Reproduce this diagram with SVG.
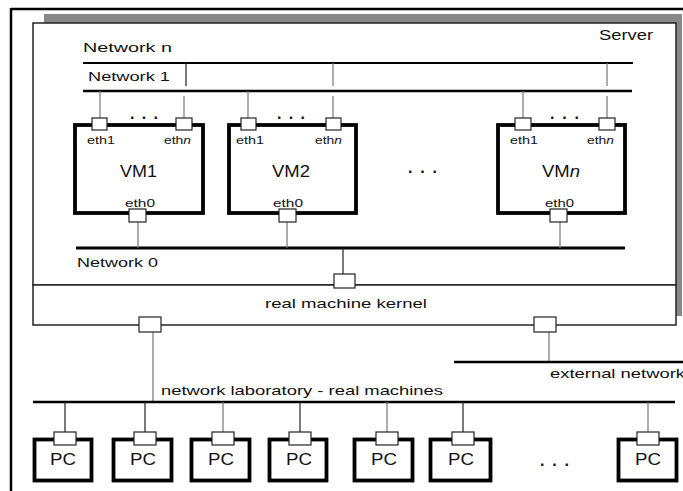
<svg xmlns="http://www.w3.org/2000/svg" width="683" height="491" viewBox="0 0 683 491">
<style>
text{font-family:"Liberation Sans",Arial,sans-serif;fill:#111}
.lbl{font-size:13px}
.eth{font-size:11px}
.vm{font-size:16px}
.pc{font-size:16px}
.dots{font-size:16px;font-weight:bold}
.port{fill:#fff;stroke:#222;stroke-width:1.2}
.box{fill:#fff;stroke:#000;stroke-width:3.8}
.net{stroke:#000;fill:none}
.wire{stroke:#777;stroke-width:1.2;fill:none}
.wireb{stroke:#222;stroke-width:1.2;fill:none}
</style>
<rect width="683" height="491" fill="#fff"/>
<g id="frame">
<line x1="11" y1="9" x2="683" y2="9" stroke="#000" stroke-width="2.5"/>
<line x1="11" y1="8" x2="11" y2="491" stroke="#000" stroke-width="2.5"/>
</g>
<g id="server">
<rect x="44" y="14" width="638" height="9" fill="#888"/>
<rect x="676" y="14" width="6" height="302" fill="#888"/>
<rect x="33" y="23" width="643" height="262" fill="#fff" stroke="#222" stroke-width="1.5"/>
<text x="599" y="40" font-size="14" textLength="54" lengthAdjust="spacingAndGlyphs">Server</text>
</g>
<g id="kernel">
<rect x="33" y="285" width="643" height="40" fill="#fff" stroke="#222" stroke-width="1.5"/>
<text x="265" y="308" class="lbl" textLength="162" lengthAdjust="spacingAndGlyphs">real machine kernel</text>
</g>
<g id="connectors">
<line class="net" x1="83" y1="63" x2="633" y2="63" stroke-width="2"/>
<line class="net" x1="83" y1="91" x2="632" y2="91" stroke-width="2.4"/>
<line class="wireb" x1="186" y1="63" x2="186" y2="86"/>
<line class="wire" x1="333" y1="63" x2="333" y2="86"/>
<line class="wire" x1="607" y1="63" x2="607" y2="86"/>
<line class="wire" x1="100" y1="91" x2="100" y2="118"/>
<line class="wire" x1="184" y1="96" x2="184" y2="118"/>
<line class="wire" x1="248" y1="91" x2="248" y2="118"/>
<line class="wire" x1="333" y1="96" x2="333" y2="118"/>
<line class="wire" x1="523" y1="91" x2="523" y2="118"/>
<line class="wire" x1="607" y1="96" x2="607" y2="118"/>
<line class="net" x1="76" y1="248" x2="625" y2="248" stroke-width="3.2"/>
<line class="wire" x1="138" y1="222" x2="138" y2="248"/>
<line class="wire" x1="287" y1="222" x2="287" y2="248"/>
<line class="wire" x1="560" y1="222" x2="560" y2="248"/>
<line class="wireb" x1="343" y1="248" x2="343" y2="274"/>
<line class="wire" x1="153" y1="332" x2="153" y2="402"/>
<line class="wire" x1="549" y1="332" x2="549" y2="362"/>
<line class="net" x1="454" y1="362" x2="683" y2="362" stroke-width="2.6"/>
<line class="net" x1="33" y1="402" x2="675" y2="402" stroke-width="2.6"/>
<line class="wireb" x1="65" y1="402" x2="65" y2="432"/>
<line class="wireb" x1="145" y1="402" x2="145" y2="432"/>
<line class="wire" x1="223" y1="402" x2="223" y2="432"/>
<line class="wireb" x1="300" y1="402" x2="300" y2="432"/>
<line class="wire" x1="387" y1="402" x2="387" y2="432"/>
<line class="wireb" x1="463" y1="402" x2="463" y2="432"/>
<line class="wire" x1="648" y1="402" x2="648" y2="432"/>
</g>
<g id="net-labels">
<text x="83" y="52" class="lbl" textLength="89" lengthAdjust="spacingAndGlyphs">Network  n</text>
<text x="88" y="81" class="lbl" textLength="82" lengthAdjust="spacingAndGlyphs">Network 1</text>
<text x="77" y="267" class="lbl" textLength="81" lengthAdjust="spacingAndGlyphs">Network 0</text>
<text x="550" y="378" class="lbl" textLength="135" lengthAdjust="spacingAndGlyphs">external network</text>
<text x="161" y="395" class="lbl" textLength="282" lengthAdjust="spacingAndGlyphs">network laboratory - real machines</text>
</g>
<g id="vm1">
<rect class="box" x="75" y="125" width="128" height="88"/>
<rect class="port" x="92" y="118" width="15" height="12"/>
<rect class="port" x="176" y="118" width="16" height="12"/>
<text x="130" y="119" class="dots" textLength="28" lengthAdjust="spacing">...</text>
<text x="87" y="144" class="eth" textLength="28" lengthAdjust="spacingAndGlyphs">eth1</text>
<text x="164" y="144" class="eth" textLength="27" lengthAdjust="spacingAndGlyphs">eth<tspan font-style="italic">n</tspan></text>
<text x="120" y="177" class="vm" textLength="37" lengthAdjust="spacingAndGlyphs">VM1</text>
<text x="125" y="207" class="eth" textLength="30" lengthAdjust="spacingAndGlyphs">eth0</text>
<rect class="port" x="129" y="209" width="17" height="13"/>
</g>
<g id="vm2">
<rect class="box" x="229" y="125" width="127" height="88"/>
<rect class="port" x="241" y="118" width="15" height="12"/>
<rect class="port" x="326" y="118" width="15" height="12"/>
<text x="277" y="119" class="dots" textLength="28" lengthAdjust="spacing">...</text>
<text x="236" y="144" class="eth" textLength="28" lengthAdjust="spacingAndGlyphs">eth1</text>
<text x="315" y="144" class="eth" textLength="27" lengthAdjust="spacingAndGlyphs">eth<tspan font-style="italic">n</tspan></text>
<text x="272" y="177" class="vm" textLength="38" lengthAdjust="spacingAndGlyphs">VM2</text>
<text x="273" y="207" class="eth" textLength="30" lengthAdjust="spacingAndGlyphs">eth0</text>
<rect class="port" x="279" y="209" width="17" height="13"/>
</g>
<text x="408" y="173" class="dots" textLength="29" lengthAdjust="spacing">...</text>
<g id="vmn">
<rect class="box" x="498" y="125" width="127" height="88"/>
<rect class="port" x="515" y="118" width="16" height="12"/>
<rect class="port" x="599" y="118" width="16" height="12"/>
<text x="550" y="119" class="dots" textLength="29" lengthAdjust="spacing">...</text>
<text x="510" y="144" class="eth" textLength="28" lengthAdjust="spacingAndGlyphs">eth1</text>
<text x="587" y="144" class="eth" textLength="27" lengthAdjust="spacingAndGlyphs">eth<tspan font-style="italic">n</tspan></text>
<text x="542" y="177" class="vm" textLength="38" lengthAdjust="spacingAndGlyphs">VM<tspan font-style="italic">n</tspan></text>
<text x="545" y="207" class="eth" textLength="29" lengthAdjust="spacingAndGlyphs">eth0</text>
<rect class="port" x="550" y="209" width="17" height="13"/>
</g>
<g id="kernel-ports">
<rect class="port" x="334" y="274" width="21" height="14"/>
<rect class="port" x="139" y="317" width="22" height="15"/>
<rect class="port" x="534" y="317" width="22" height="15"/>
</g>
<g id="pc1"><rect class="box" x="34.5" y="439.5" width="57" height="41"/><rect class="port" x="54" y="432" width="22" height="13"/><text x="50" y="465" class="pc" textLength="26" lengthAdjust="spacingAndGlyphs">PC</text></g>
<g id="pc2"><rect class="box" x="113.5" y="439.5" width="58" height="41"/><rect class="port" x="134" y="432" width="22" height="13"/><text x="130" y="465" class="pc" textLength="26" lengthAdjust="spacingAndGlyphs">PC</text></g>
<g id="pc3"><rect class="box" x="191.5" y="439.5" width="58" height="41"/><rect class="port" x="212" y="432" width="22" height="13"/><text x="208" y="465" class="pc" textLength="26" lengthAdjust="spacingAndGlyphs">PC</text></g>
<g id="pc4"><rect class="box" x="269.5" y="439.5" width="57" height="41"/><rect class="port" x="289" y="432" width="22" height="13"/><text x="286" y="465" class="pc" textLength="26" lengthAdjust="spacingAndGlyphs">PC</text></g>
<g id="pc5"><rect class="box" x="354.5" y="439.5" width="58" height="41"/><rect class="port" x="376" y="432" width="22" height="13"/><text x="371" y="465" class="pc" textLength="26" lengthAdjust="spacingAndGlyphs">PC</text></g>
<g id="pc6"><rect class="box" x="430.5" y="439.5" width="60" height="41"/><rect class="port" x="452" y="432" width="22" height="13"/><text x="448" y="465" class="pc" textLength="26" lengthAdjust="spacingAndGlyphs">PC</text></g>
<text x="540" y="466" class="dots" textLength="29" lengthAdjust="spacing">...</text>
<g id="pc7"><rect class="box" x="618.5" y="439.5" width="58" height="41"/><rect class="port" x="637" y="432" width="22" height="13"/><text x="635" y="465" class="pc" textLength="26" lengthAdjust="spacingAndGlyphs">PC</text></g>
</svg>
